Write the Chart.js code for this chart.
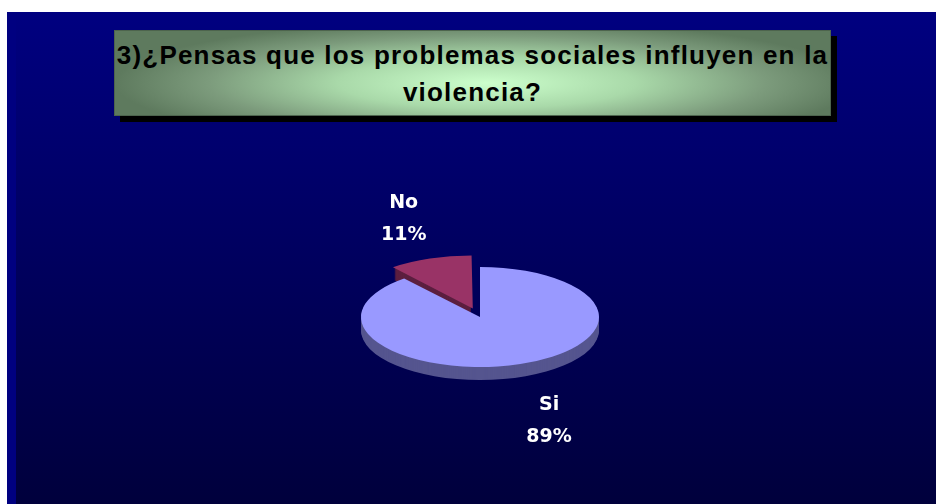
<!DOCTYPE html>
<html>
<head>
<meta charset="utf-8">
<script src="https://cdn.jsdelivr.net/npm/chart.js"></script>
<style>
  body { margin: 0; background: #fff; width: 936px; height: 504px; overflow: hidden; position: relative; }
  #panel { position: absolute; left: 7px; top: 12px; width: 929px; height: 492px; background: #000080; }
  #shade { position: absolute; left: 16px; top: 12px; width: 920px; height: 492px;
    background: linear-gradient(to bottom, #000080 0%, #000062 45%, #00003c 100%); }
  #titlebox { position: absolute; left: 114px; top: 30px; width: 717px; height: 86px;
    border: 1px solid #4d644d; box-shadow: 6px 6px 0 #000;
    background: radial-gradient(ellipse 52% 75% at 52% 62%, #ccffcc 0%, #a9d9a9 40%, #7c9b7c 75%, #5e7a5e 100%);
    font: bold 26px "Liberation Sans", Arial, sans-serif; letter-spacing: 1.2px; color: #000;
    text-align: center; line-height: 37px; padding-top: 6px; box-sizing: border-box; white-space: nowrap; }
  #wrap { position: absolute; left: 0; top: 0; width: 936px; height: 504px; }
</style>
</head>
<body>
<div id="panel"></div>
<div id="shade"></div>
<div id="titlebox">3)¿Pensas que los problemas sociales influyen en la<br>violencia?</div>
<div id="wrap"><canvas id="pieChart"></canvas></div>
<script>
// chart data
const labels = ['Si', 'No'];
const values = [89, 11];
const topColors = ['#9999ff', '#993366'];
const sideColors = ['#55558f', '#5c1f3f'];
const offsets = [0, 85];

const tilt = 0.42;   // vertical squash of the pie
const depth = 13;    // thickness of the pie side

function squash(ctx, cx, cy) {
  ctx.translate(cx, cy);
  ctx.scale(1, tilt);
  ctx.translate(-cx, -cy);
}

// same shift that Chart.js applies to an offset arc
function arcShift(arc) {
  const off = (arc.options.offset || 0) / 4;
  const circ = arc.endAngle - arc.startAngle;
  const fix = 1 - Math.sin(Math.min(Math.PI, circ));
  const r = off + off * fix;
  const mid = (arc.startAngle + arc.endAngle) / 2;
  return { dx: Math.cos(mid) * r, dy: Math.sin(mid) * r };
}

const pie3d = {
  id: 'pie3d',
  beforeDatasetsDraw(chart) {
    const ctx = chart.ctx;
    const arcs = chart.getDatasetMeta(0).data;
    const cx = arcs[0].x, cy = arcs[0].y;
    for (let d = depth; d > 0; d--) {
      arcs.forEach((arc, i) => {
        const s = arcShift(arc);
        ctx.save();
        ctx.translate(0, d);
        squash(ctx, cx, cy);
        ctx.translate(s.dx, s.dy);
        ctx.beginPath();
        ctx.moveTo(arc.x, arc.y);
        ctx.arc(arc.x, arc.y, arc.outerRadius, arc.startAngle, arc.endAngle);
        ctx.closePath();
        ctx.fillStyle = sideColors[i];
        ctx.fill();
        ctx.restore();
      });
    }
    ctx.save();
    squash(ctx, cx, cy);
  },
  afterDatasetsDraw(chart) {
    const ctx = chart.ctx;
    ctx.restore();
    const arcs = chart.getDatasetMeta(0).data;
    const total = values.reduce((a, b) => a + b, 0);
    ctx.save();
    ctx.fillStyle = '#ffffff';
    ctx.font = 'bold 19px "DejaVu Sans", sans-serif';
    ctx.textAlign = 'center';
    ctx.textBaseline = 'middle';
    arcs.forEach((arc, i) => {
      const mid = (arc.startAngle + arc.endAngle) / 2;
      const R = arc.outerRadius + 85 + (arc.options.offset || 0) * 0.25;
      const x = arc.x + Math.cos(mid) * R;
      const y = arc.y + 8 + Math.sin(mid) * R * 0.5;
      ctx.fillText(labels[i], x, y - 16);
      ctx.fillText(Math.round(values[i] / total * 100) + '%', x, y + 16);
    });
    ctx.restore();
  }
};

new Chart(document.getElementById('pieChart'), {
  type: 'pie',
  data: {
    labels: labels,
    datasets: [{
      data: values,
      backgroundColor: topColors,
      offset: offsets,
      borderWidth: 0,
      radius: 119,
      clip: false
    }]
  },
  options: {
    responsive: true,
    maintainAspectRatio: false,
    animation: false,
    events: [],
    layout: { padding: { left: 24, right: 0, top: 130, bottom: 0 } },
    plugins: {
      legend: { display: false },
      tooltip: { enabled: false },
      title: { display: false }
    }
  },
  plugins: [pie3d]
});
</script>
</body>
</html>
